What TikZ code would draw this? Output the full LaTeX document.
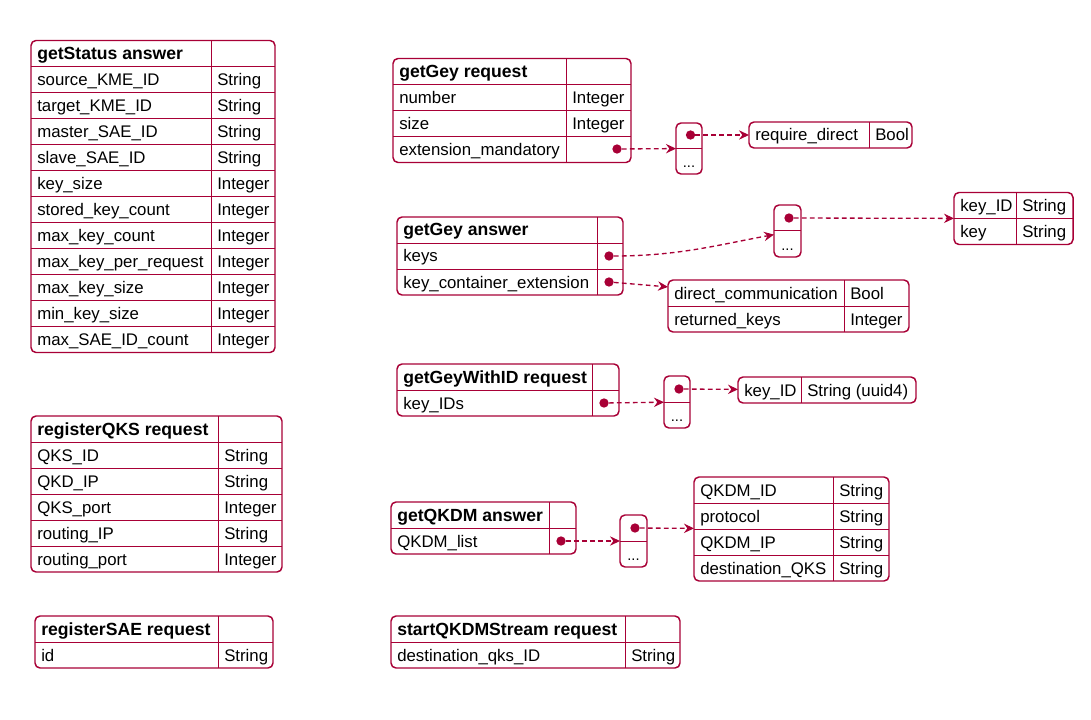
\documentclass[tikz,border=0pt]{standalone}
\usepackage{fontspec}
\setmainfont{Liberation Sans}
\usetikzlibrary{arrows.meta}
\definecolor{qred}{RGB}{168,0,54}

\begin{document}
\begin{tikzpicture}[x=0.75pt,y=0.75pt,yscale=-1,
    frame/.style={draw=qred, line width=1.1pt, rounded corners=3.75pt, anchor=north west, inner sep=0pt, outer sep=0pt},
    rowline/.style={draw=qred, line width=0.75pt},
    txt/.style={anchor=base west, inner sep=0pt, font=\fontsize{12.6}{15}\selectfont},
    hdr/.style={txt, font=\fontsize{13.2}{15}\selectfont\bfseries},
    more/.style={anchor=base, inner sep=0pt, font=\fontsize{11}{13}\selectfont},
    dot/.style={circle, fill=qred, inner sep=0pt, minimum size=7pt},
    link/.style={draw=qred, line width=1pt, dash pattern=on 3.5pt off 2.5pt, -{Stealth[length=7.5pt,width=7pt,inset=2.5pt]}}]
        \useasboundingbox (0,0) rectangle (1091,720);

        %Shape: Table [getStatus answer]
        \node[frame, minimum width=183pt, minimum height=234pt] (gs) at (31,40.5) {};
        \draw[rowline] (31,66.5) -- (275,66.5) (31,92.5) -- (275,92.5) (31,118.5) -- (275,118.5) (31,144.5) -- (275,144.5) (31,170.5) -- (275,170.5) (31,196.5) -- (275,196.5) (31,222.5) -- (275,222.5) (31,248.5) -- (275,248.5) (31,274.5) -- (275,274.5) (31,300.5) -- (275,300.5) (31,326.5) -- (275,326.5) ;
        \draw[rowline] (211,40.5) -- (211,352.5) ;
        % Text Node
        \node[hdr] (gs-h) at (37,59.5) {getStatus answer};
        \node[txt] (gs-k1) at (37,85.5) {source\_KME\_ID};     \node[txt] (gs-v1) at (217,85.5) {String};
        \node[txt] (gs-k2) at (37,111.5) {target\_KME\_ID};    \node[txt] (gs-v2) at (217,111.5) {String};
        \node[txt] (gs-k3) at (37,137.5) {master\_SAE\_ID};    \node[txt] (gs-v3) at (217,137.5) {String};
        \node[txt] (gs-k4) at (37,163.5) {slave\_SAE\_ID};     \node[txt] (gs-v4) at (217,163.5) {String};
        \node[txt] (gs-k5) at (37,189.5) {key\_size};          \node[txt] (gs-v5) at (217,189.5) {Integer};
        \node[txt] (gs-k6) at (37,215.5) {stored\_key\_count}; \node[txt] (gs-v6) at (217,215.5) {Integer};
        \node[txt] (gs-k7) at (37,241.5) {max\_key\_count};    \node[txt] (gs-v7) at (217,241.5) {Integer};
        \node[txt] (gs-k8) at (37,267.5) {max\_key\_per\_request}; \node[txt] (gs-v8) at (217,267.5) {Integer};
        \node[txt] (gs-k9) at (37,293.5) {max\_key\_size};     \node[txt] (gs-v9) at (217,293.5) {Integer};
        \node[txt] (gs-k10) at (37,319.5) {min\_key\_size};    \node[txt] (gs-v10) at (217,319.5) {Integer};
        \node[txt] (gs-k11) at (37,345.5) {max\_SAE\_ID\_count}; \node[txt] (gs-v11) at (217,345.5) {Integer};

        %Shape: Table [registerQKS request]
        \node[frame, minimum width=188.25pt, minimum height=117pt] (rq) at (31,416) {};
        \draw[rowline] (31,442) -- (282,442) (31,468) -- (282,468) (31,494) -- (282,494) (31,520) -- (282,520) (31,546) -- (282,546) ;
        \draw[rowline] (218,416) -- (218,572) ;
        % Text Node
        \node[hdr] (rq-h) at (37,435) {registerQKS request};
        \node[txt] (rq-k1) at (37,461) {QKS\_ID};       \node[txt] (rq-v1) at (224,461) {String};
        \node[txt] (rq-k2) at (37,487) {QKD\_IP};       \node[txt] (rq-v2) at (224,487) {String};
        \node[txt] (rq-k3) at (37,513) {QKS\_port};     \node[txt] (rq-v3) at (224,513) {Integer};
        \node[txt] (rq-k4) at (37,539) {routing\_IP};   \node[txt] (rq-v4) at (224,539) {String};
        \node[txt] (rq-k5) at (37,565) {routing\_port}; \node[txt] (rq-v5) at (224,565) {Integer};

        %Shape: Table [registerSAE request]
        \node[frame, minimum width=178.5pt, minimum height=39pt] (rs) at (35,616) {};
        \draw[rowline] (35,642) -- (273,642) ;
        \draw[rowline] (218,616) -- (218,668) ;
        % Text Node
        \node[hdr] (rs-h) at (41,635) {registerSAE request};
        \node[txt] (rs-k1) at (41,661) {id}; \node[txt] (rs-v1) at (224,661) {String};

        %Shape: Table [getGey request]
        \node[frame, minimum width=178.5pt, minimum height=78pt] (ggr) at (393,58.5) {};
        \draw[rowline] (393,84.5) -- (631,84.5) (393,110.5) -- (631,110.5) (393,136.5) -- (631,136.5) ;
        \draw[rowline] (566,58.5) -- (566,162.5) ;
        % Text Node
        \node[hdr] (ggr-h) at (399,77.5) {getGey request};
        \node[txt] (ggr-k1) at (399,103.5) {number};              \node[txt] (ggr-v1) at (572,103.5) {Integer};
        \node[txt] (ggr-k2) at (399,129.5) {size};                \node[txt] (ggr-v2) at (572,129.5) {Integer};
        \node[txt] (ggr-k3) at (399,155.5) {extension\_mandatory}; \node[dot] (ggr-d) at (617,149) {};
        %Shape: List
        \node[frame, minimum width=19.5pt, minimum height=38.25pt] (ggr-l) at (676,123) {};
        \draw[rowline] (676,148.5) -- (702,148.5) ;
        \node[dot] (ggr-ld) at (690.5,135) {};
        \node[more] (ggr-lm) at (689,167.5) {...};
        %Shape: Table [require_direct]
        \node[frame, minimum width=122.25pt, minimum height=19.5pt] (rd) at (749,122) {};
        \draw[rowline] (869,122) -- (869,148) ;
        \node[txt] (rd-k1) at (755,141) {require\_direct}; \node[txt] (rd-v1) at (875,141) {Bool};
        %Dashed Lines
        \draw[link] (ggr-d) -- (ggr-l) ;
        \draw[link] (ggr-ld) -- (rd) ;

        %Shape: Table [getGey answer]
        \node[frame, minimum width=169.5pt, minimum height=58.5pt] (gga) at (397,217) {};
        \draw[rowline] (397,243) -- (623,243) (397,269) -- (623,269) ;
        \draw[rowline] (597,217) -- (597,295) ;
        % Text Node
        \node[hdr] (gga-h) at (403,236) {getGey answer};
        \node[txt] (gga-k1) at (403,262) {keys};                    \node[dot] (gga-d1) at (609,256) {};
        \node[txt] (gga-k2) at (403,288) {key\_container\_extension}; \node[dot] (gga-d2) at (609,282) {};
        %Shape: List
        \node[frame, minimum width=20.25pt, minimum height=39pt] (gga-l) at (774,205) {};
        \draw[rowline] (774,231) -- (801,231) ;
        \node[dot] (gga-ld) at (789,218) {};
        \node[more] (gga-lm) at (787.5,250) {...};
        %Shape: Table [key]
        \node[frame, minimum width=89.25pt, minimum height=39pt] (key) at (954,192.5) {};
        \draw[rowline] (954,218.5) -- (1073,218.5) ;
        \draw[rowline] (1016,192.5) -- (1016,244.5) ;
        \node[txt] (key-k1) at (960,211.5) {key\_ID}; \node[txt] (key-v1) at (1022,211.5) {String};
        \node[txt] (key-k2) at (960,237.5) {key};     \node[txt] (key-v2) at (1022,237.5) {String};
        %Shape: Table [key_container_extension]
        \node[frame, minimum width=180.75pt, minimum height=39pt] (dc) at (668,280) {};
        \draw[rowline] (668,306) -- (909,306) ;
        \draw[rowline] (844,280) -- (844,332) ;
        \node[txt] (dc-k1) at (674,299) {direct\_communication}; \node[txt] (dc-v1) at (850,299) {Bool};
        \node[txt] (dc-k2) at (674,325) {returned\_keys};        \node[txt] (dc-v2) at (850,325) {Integer};
        %Dashed Lines
        \draw[link] (gga-d1) .. controls +(70,0) and +(-55,10) .. (gga-l.195) ;
        \draw[link] (gga-ld) -- (key) ;
        \draw[link] (gga-d2) -- (dc.171) ;

        %Shape: Table [getGeyWithID request]
        \node[frame, minimum width=166.5pt, minimum height=39pt] (gwi) at (397,364) {};
        \draw[rowline] (397,390) -- (619,390) ;
        \draw[rowline] (592,364) -- (592,416) ;
        % Text Node
        \node[hdr] (gwi-h) at (403,383) {getGeyWithID request};
        \node[txt] (gwi-k1) at (403,409) {key\_IDs}; \node[dot] (gwi-d) at (604,403) {};
        %Shape: List
        \node[frame, minimum width=19.5pt, minimum height=39pt] (gwi-l) at (664,376) {};
        \draw[rowline] (664,402) -- (690,402) ;
        \node[dot] (gwi-ld) at (679,389) {};
        \node[more] (gwi-lm) at (677,421) {...};
        %Shape: Table [key_ID]
        \node[frame, minimum width=133.5pt, minimum height=19.5pt] (kid) at (738,377) {};
        \draw[rowline] (801,377) -- (801,403) ;
        \node[txt] (kid-k1) at (744,396) {key\_ID}; \node[txt] (kid-v1) at (807,396) {String (uuid4)};
        %Dashed Lines
        \draw[link] (gwi-d) -- (gwi-l) ;
        \draw[link] (gwi-ld) -- (kid) ;

        %Shape: Table [getQKDM answer]
        \node[frame, minimum width=138.75pt, minimum height=39pt] (gq) at (391,502) {};
        \draw[rowline] (391,528) -- (576,528) ;
        \draw[rowline] (549,502) -- (549,554) ;
        % Text Node
        \node[hdr] (gq-h) at (397,521) {getQKDM answer};
        \node[txt] (gq-k1) at (397,547) {QKDM\_list}; \node[dot] (gq-d) at (561,541) {};
        %Shape: List
        \node[frame, minimum width=20.25pt, minimum height=39pt] (gq-l) at (620,515) {};
        \draw[rowline] (620,541) -- (647,541) ;
        \node[dot] (gq-ld) at (635,528) {};
        \node[more] (gq-lm) at (633.5,560) {...};
        %Shape: Table [QKDM]
        \node[frame, minimum width=146.25pt, minimum height=78pt] (qk) at (694,477) {};
        \draw[rowline] (694,503) -- (889,503) (694,529) -- (889,529) (694,555) -- (889,555) ;
        \draw[rowline] (833,477) -- (833,581) ;
        \node[txt] (qk-k1) at (700,496) {QKDM\_ID};          \node[txt] (qk-v1) at (839,496) {String};
        \node[txt] (qk-k2) at (700,522) {protocol};          \node[txt] (qk-v2) at (839,522) {String};
        \node[txt] (qk-k3) at (700,548) {QKDM\_IP};          \node[txt] (qk-v3) at (839,548) {String};
        \node[txt] (qk-k4) at (700,574) {destination\_QKS};  \node[txt] (qk-v4) at (839,574) {String};
        %Dashed Lines
        \draw[link] (gq-d) -- (gq-l) ;
        \draw[link] (gq-ld) -- (qk) ;

        %Shape: Table [startQKDMStream request]
        \node[frame, minimum width=216.75pt, minimum height=39pt] (sq) at (391,616) {};
        \draw[rowline] (391,642) -- (680,642) ;
        \draw[rowline] (625,616) -- (625,668) ;
        % Text Node
        \node[hdr] (sq-h) at (397,635) {startQKDMStream request};
        \node[txt] (sq-k1) at (397,661) {destination\_qks\_ID}; \node[txt] (sq-v1) at (631,661) {String};

        \end{tikzpicture}
\end{document}
